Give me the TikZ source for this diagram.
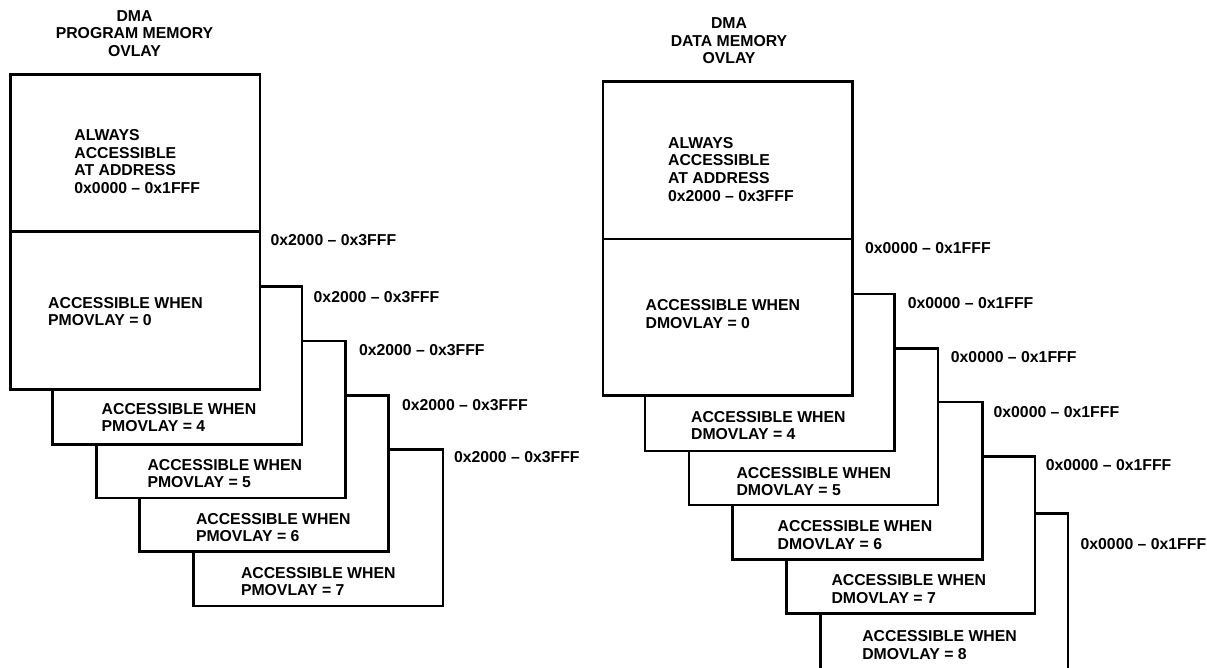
\documentclass[tikz,border=0pt]{standalone}
\usepackage{fontspec}
\setmainfont{Liberation Sans}
\usetikzlibrary{positioning}
\begin{document}
\begin{tikzpicture}[x=1pt,y=-1pt,
  membox/.style={draw=black,line width=2.7pt,fill=white},
  memtxt/.style={align=left,inner sep=0pt,anchor=north west},
  addr/.style={inner sep=0pt,anchor=west},
  ttl/.style={align=center,inner sep=0pt,anchor=north},
  every node/.style={font=\bfseries\fontsize{15.8}{17.6}\selectfont}]
\useasboundingbox (0,0) rectangle (1207,668);
\clip (0,0) rectangle (1207,668);
\filldraw[membox] (193.8,449.3) rectangle (443,606);
\filldraw[membox] (139.6,395.3) rectangle (388.5,551.7);
\filldraw[membox] (96.2,341) rectangle (345.4,498);
\filldraw[membox] (52.7,286.7) rectangle (302,444.3);
\filldraw[membox] (10.4,74.7) rectangle (260,389.3);
\draw[membox] (10.4,231.7) -- (260,231.7);
\node[ttl] (pmTitle) at (134.5,10) {DMA\\PROGRAM MEMORY\\OVLAY};
\node[memtxt] (pmAlways) at (74.2,129.3) {ALWAYS\\ACCESSIBLE\\AT ADDRESS\\0x0000 -- 0x1FFF};
\node[memtxt] (pmOv0) at (48,297) {ACCESSIBLE WHEN\\PMOVLAY = 0};
\node[memtxt] (pmOv4) at (101.5,403) {ACCESSIBLE WHEN\\PMOVLAY = 4};
\node[memtxt] (pmOv5) at (147.3,459) {ACCESSIBLE WHEN\\PMOVLAY = 5};
\node[memtxt] (pmOv6) at (195.8,513) {ACCESSIBLE WHEN\\PMOVLAY = 6};
\node[memtxt] (pmOv7) at (240.8,567) {ACCESSIBLE WHEN\\PMOVLAY = 7};
\node[addr] (pmAddr0) at (270.4,240) {0x2000 -- 0x3FFF};
\node[addr] (pmAddr4) at (313.5,296.7) {0x2000 -- 0x3FFF};
\node[addr] (pmAddr5) at (358.8,350) {0x2000 -- 0x3FFF};
\node[addr] (pmAddr6) at (401.9,405) {0x2000 -- 0x3FFF};
\node[addr] (pmAddr7) at (453.8,456.7) {0x2000 -- 0x3FFF};
\filldraw[membox] (820.2,513.3) rectangle (1068,690);
\filldraw[membox] (786.6,456.7) rectangle (1035,613.7);
\filldraw[membox] (732.4,402) rectangle (982.3,559.3);
\filldraw[membox] (688.9,348.3) rectangle (938,505);
\filldraw[membox] (645,294) rectangle (894.5,451);
\filldraw[membox] (603,81.7) rectangle (852.6,395.7);
\draw[membox] (603,239) -- (852.6,239);
\node[ttl] (dmTitle) at (729,17.6) {DMA\\DATA MEMORY\\OVLAY};
\node[memtxt] (dmAlways) at (667.9,137) {ALWAYS\\ACCESSIBLE\\AT ADDRESS\\0x2000 -- 0x3FFF};
\node[memtxt] (dmOv0) at (645.4,299.3) {ACCESSIBLE WHEN\\DMOVLAY = 0};
\node[memtxt] (dmOv4) at (690.9,411) {ACCESSIBLE WHEN\\DMOVLAY = 4};
\node[memtxt] (dmOv5) at (736.3,467) {ACCESSIBLE WHEN\\DMOVLAY = 5};
\node[memtxt] (dmOv6) at (777.5,520.3) {ACCESSIBLE WHEN\\DMOVLAY = 6};
\node[memtxt] (dmOv7) at (831.3,574.3) {ACCESSIBLE WHEN\\DMOVLAY = 7};
\node[memtxt] (dmOv8) at (862.1,630.3) {ACCESSIBLE WHEN\\DMOVLAY = 8};
\node[addr] (dmAddr0) at (864.9,248.3) {0x0000 -- 0x1FFF};
\node[addr] (dmAddr4) at (907.6,302.7) {0x0000 -- 0x1FFF};
\node[addr] (dmAddr5) at (950.7,357.3) {0x0000 -- 0x1FFF};
\node[addr] (dmAddr6) at (993.4,412.3) {0x0000 -- 0x1FFF};
\node[addr] (dmAddr7) at (1045.6,465) {0x0000 -- 0x1FFF};
\node[addr] (dmAddr8) at (1080.4,544) {0x0000 -- 0x1FFF};
\end{tikzpicture}
\end{document}
